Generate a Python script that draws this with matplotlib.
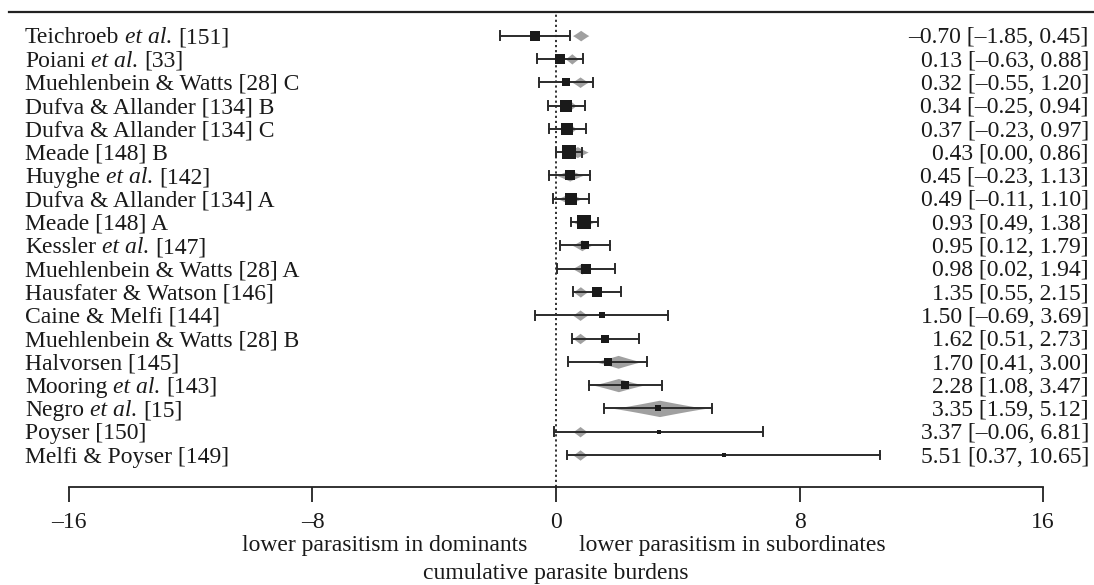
import numpy as np
import matplotlib
matplotlib.use("Agg")
import matplotlib.pyplot as plt
import matplotlib.transforms as mtransforms

plt.rcParams['font.family'] = ['Liberation Serif', 'DejaVu Serif']

# ---------------- data ----------------
studies = [
    "Teichroeb et al. [151]",
    "Poiani et al. [33]",
    "Muehlenbein & Watts [28] C",
    "Dufva & Allander [134] B",
    "Dufva & Allander [134] C",
    "Meade [148] B",
    "Huyghe et al. [142]",
    "Dufva & Allander [134] A",
    "Meade [148] A",
    "Kessler et al. [147]",
    "Muehlenbein & Watts [28] A",
    "Hausfater & Watson [146]",
    "Caine & Melfi [144]",
    "Muehlenbein & Watts [28] B",
    "Halvorsen [145]",
    "Mooring et al. [143]",
    "Negro et al. [15]",
    "Poyser [150]",
    "Melfi & Poyser [149]",
]
estimate = [-0.70, 0.13, 0.32, 0.34, 0.37, 0.43, 0.45, 0.49, 0.93, 0.95,
            0.98, 1.35, 1.50, 1.62, 1.70, 2.28, 3.35, 3.37, 5.51]
ci_lower = [-1.85, -0.63, -0.55, -0.25, -0.23, 0.00, -0.23, -0.11, 0.49, 0.12,
            0.02, 0.55, -0.69, 0.51, 0.41, 1.08, 1.59, -0.06, 0.37]
ci_upper = [0.45, 0.88, 1.20, 0.94, 0.97, 0.86, 1.13, 1.10, 1.38, 1.79,
            1.94, 2.15, 3.69, 2.73, 3.00, 3.47, 5.12, 6.81, 10.65]
weights = [8.1, 8.1, 7.0, 14.0, 12.5, 20.0, 9.3, 12.5, 18.0, 6.5,
           9.3, 9.3, 2.3, 5.9, 5.5, 6.5, 4.1, 1.0, 1.0]
# predicted (shrunken) distribution for each study: centre and half-range
pred_centre = [0.81, 0.52, 0.79, 0.45, 0.45, 0.70, 0.45, 0.45, 0.90, 0.85,
               0.85, 0.80, 0.79, 0.79, 2.04, 2.05, 3.40, 0.79, 0.79]
pred_halfrange = [0.27, 0.22, 0.27, 0.22, 0.22, 0.36, 0.44, 0.40, 0.36, 0.32,
                  0.32, 0.24, 0.25, 0.24, 0.76, 0.84, 1.52, 0.24, 0.24]
xticks = [-16, -8, 0, 8, 16]
xtick_labels = ["\u201316", "\u20138", "0", "8", "16"]
left_note = "lower parasitism in dominants"
right_note = "lower parasitism in subordinates"
xlabel = "cumulative parasite burdens"

# ---------------- layout ----------------
W, H = 1094, 585
FS = 17
fig = plt.figure(figsize=(W / 100, H / 100), dpi=100)
ax = fig.add_axes([0, 0, 1, 1])
px_per_unit = 30.44
x0_px = 556
row_px = 23.3
last_row_px = 455


def row_at(py):
    return 1 + (last_row_px - py) / row_px


ax.set_xlim(-x0_px / px_per_unit, (W - x0_px) / px_per_unit)
ax.set_ylim(row_at(H), row_at(0))

k = len(studies)
rows = np.arange(k, 0, -1)
axis_y = row_at(487)

for sp in ['top', 'right', 'left']:
    ax.spines[sp].set_visible(False)
ax.spines['bottom'].set_position(('data', axis_y))
ax.spines['bottom'].set_bounds(-16, 16)
ax.spines['bottom'].set_linewidth(1.3)
ax.spines['bottom'].set_color('#222222')
ax.set_yticks([])
ax.set_xticks(xticks)
ax.set_xticklabels(xtick_labels, fontsize=FS, color='#1a1a1a')
ax.tick_params(axis='x', direction='out', length=11, width=1.3, color='#222222', pad=7)

# top line
ax.axhline(k + 1, xmin=9 / W, xmax=1, color='#222222', lw=1.6)
# reference line
ax.plot([0, 0], [axis_y, k + 1], color='#222222', lw=1.3, ls=(0, (1.2, 1.6)))

dark = '#2b2b2b'
gray = '#a0a0a0'
cap = 0.19
for r, est, lo, hi, w, c, a in zip(rows, estimate, ci_lower, ci_upper, weights,
                                   pred_centre, pred_halfrange):
    xs = np.linspace(c - a, c + a, 160)
    z = np.abs(xs - c) / a
    hh = (0.20 + 0.10 * a) * np.clip(1 - z, 0, 1) ** 1.1
    ax.fill_between(xs, r - hh, r + hh, color=gray, lw=0, zorder=1)
    ax.plot([lo, hi], [r, r], color=dark, lw=1.4, zorder=2)
    ax.plot([lo, lo], [r - cap, r + cap], color=dark, lw=1.4, zorder=2)
    ax.plot([hi, hi], [r - cap, r + cap], color=dark, lw=1.4, zorder=2)
    side_px = 3.3 * np.sqrt(w)
    ax.plot([est], [r], marker='s', ms=side_px * 0.72, mew=0, color='#1a1a1a', zorder=3)

# ---------------- text ----------------
blend = mtransforms.blended_transform_factory(ax.transAxes, ax.transData)
fig.canvas.draw()
renderer = fig.canvas.get_renderer()


def width(s, style='normal'):
    t = ax.text(0, 0, s, fontsize=FS, fontstyle=style)
    w = t.get_window_extent(renderer).width
    t.remove()
    return w


space = width("a a") - width("aa")
base_off = -0.33 * FS * 100 / 72  # baseline below row centre (pixels)


def put(x_frac, r, s, dx, style='normal', ha='left'):
    tr = mtransforms.offset_copy(blend, fig=fig, x=dx, y=base_off, units='dots')
    ax.text(x_frac, r, s, transform=tr, ha=ha, va='baseline', fontsize=FS,
            fontstyle=style, color='#1a1a1a')


def fmt(v):
    return f"{v:.2f}".replace('-', '\u2013')


for r, name, est, lo, hi in zip(rows, studies, estimate, ci_lower, ci_upper):
    if "et al." in name:
        pre, post = name.split("et al.")
        pre = pre.strip()
        post = post.strip()
        dx = 0
        put(25 / W, r, pre, dx)
        dx += width(pre) + space
        put(25 / W, r, "et al.", dx, style='italic')
        dx += width("et al.|", 'italic') - width("|", 'italic') + space
        put(25 / W, r, post, dx)
    else:
        put(25 / W, r, name, 0)
    put(1089 / W, r, f"{fmt(est)} [{fmt(lo)}, {fmt(hi)}]", 0, ha='right')

ax.text(-0.95, row_at(546), left_note, ha='right', va='center', fontsize=FS, color='#1a1a1a')
ax.text(0.76, row_at(546), right_note, ha='left', va='center', fontsize=FS, color='#1a1a1a')
ax.text(0, row_at(574), xlabel, ha='center', va='center', fontsize=FS, color='#1a1a1a')

fig.savefig("out.png", dpi=100)
